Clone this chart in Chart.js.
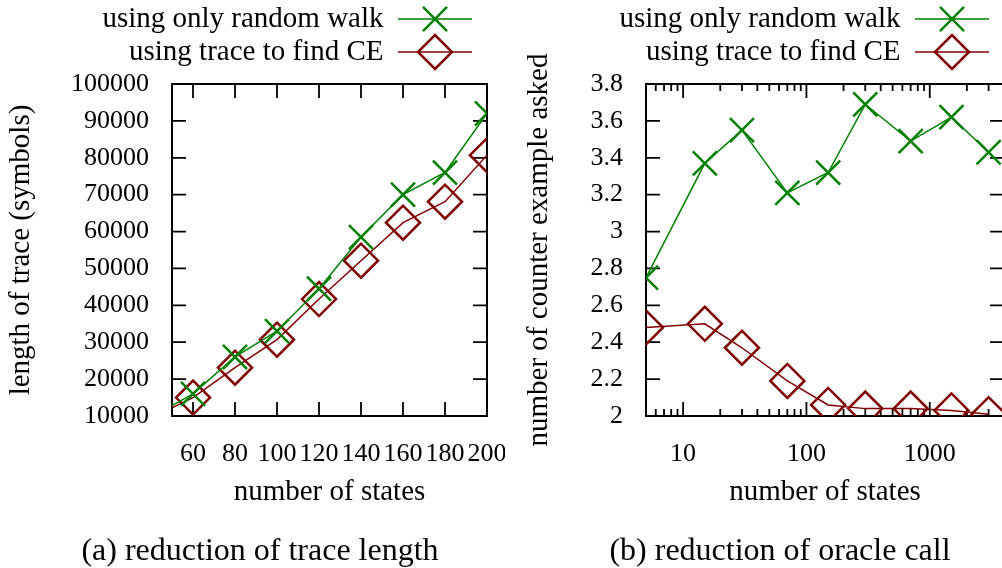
<!DOCTYPE html>
<html>
<head>
<meta charset="utf-8">
<script src="https://cdn.jsdelivr.net/npm/chart.js"></script>
<style>
  html, body { margin: 0; padding: 0; background: #fff; overflow: hidden; }
  #page { position: relative; width: 1002px; height: 568px; overflow: hidden; }
  canvas { position: absolute; top: 0; }
  #trace { left: 0; }
  #oracle { left: 510px; }
  .caption { position: absolute; top: 531px; width: 440px; height: 36px; line-height: 36px;
             text-align: center; font: 32px 'Liberation Serif', 'Times New Roman', serif;
             color: #000; white-space: nowrap; }
</style>
</head>
<body>
<div id="page">
  <canvas id="trace" width="505" height="568"></canvas>
  <canvas id="oracle" width="494" height="568"></canvas>
  <div class="caption" style="left:40px">(a) reduction of trace length</div>
  <div class="caption" style="left:560px">(b) reduction of oracle call</div>
</div>
<script>
// (a) length of trace, linear x
// first row (50) is only where the clipped lines enter the frame, no marker there
const statesA = [50, 60, 80, 100, 120, 140, 160, 180, 200];
const walkA = [12800, 16000, 26000, 33000, 44500, 58500, 70000, 76000, 92000];
const traceA = [12200, 15000, 23100, 30700, 41700, 52100, 62400, 68100, 80700];
const xTicksA = [60, 80, 100, 120, 140, 160, 180, 200];
const yTicksA = [10000, 20000, 30000, 40000, 50000, 60000, 70000, 80000, 90000, 100000];

// (b) counter examples asked, log x
const statesB = [5, 15, 30, 70, 150, 300, 700, 1500, 3000];
const walkB = [2.75, 3.37, 3.55, 3.21, 3.32, 3.69, 3.49, 3.62, 3.43];
const traceB = [2.48, 2.50, 2.37, 2.19, 2.06, 2.04, 2.04, 2.03, 2.01];
const xMajorB = [10, 100, 1000];
const yTicksB = [2, 2.2, 2.4, 2.6, 2.8, 3, 3.2, 3.4, 3.6, 3.8];

const seriesNames = ['using only random walk', 'using trace to find CE'];

const GREEN = 'rgb(0,128,0)';
const RED = 'rgb(128,0,0)';
const SERIF = "'Liberation Serif', 'Times New Roman', serif";
const tickFont = { family: SERIF, size: 26 };
const textFont = { family: SERIF, size: 29 };

// gnuplot style key sample: short line with the marker in its middle
function keySample(color, style) {
  const c = document.createElement('canvas');
  c.width = 85;
  c.height = 40;
  const g = c.getContext('2d');
  g.strokeStyle = color;
  g.lineWidth = 1.5;
  g.beginPath();
  g.moveTo(0, 20);
  g.lineTo(74, 20);
  g.stroke();
  g.lineWidth = 2.5;
  g.fillStyle = 'rgba(0,0,0,0)';
  Chart.helpers.drawPoint(g, { pointStyle: style, radius: 17, borderWidth: 2.5, rotation: 0 }, 37, 20);
  return c;
}
const samples = [keySample(GREEN, 'crossRot'), keySample(RED, 'rectRot')];

// border plus inward ticks on all four sides
const frame = {
  id: 'frame',
  beforeDatasetsDraw(chart) {
    const { ctx, chartArea: a, scales } = chart;
    ctx.save();
    ctx.strokeStyle = '#000';
    ctx.lineWidth = 1.8;
    ctx.beginPath();
    scales.x.ticks.forEach(t => {
      const p = scales.x.getPixelForValue(t.value);
      const len = t.major === false ? 7 : 14;
      ctx.moveTo(p, a.bottom); ctx.lineTo(p, a.bottom - len);
      ctx.moveTo(p, a.top); ctx.lineTo(p, a.top + len);
    });
    scales.y.ticks.forEach(t => {
      const p = scales.y.getPixelForValue(t.value);
      ctx.moveTo(a.left, p); ctx.lineTo(a.left + 14, p);
      ctx.moveTo(a.right, p); ctx.lineTo(a.right - 14, p);
    });
    ctx.stroke();
    ctx.lineWidth = 2;
    ctx.strokeRect(a.left, a.top, a.right - a.left, a.bottom - a.top);
    ctx.restore();
  }
};

// a bit of room between the key and the plot
const legendGap = {
  id: 'legendGap',
  afterInit(chart, args, opts) {
    const fit = chart.legend.fit;
    chart.legend.fit = function () {
      fit.call(this);
      this.height += opts.extra;
    };
  }
};

function series(label, xs, ys, color, style, radius) {
  return {
    label,
    data: xs.map((x, i) => ({ x, y: ys[i] })),
    borderColor: color,
    borderWidth: 1.5,
    pointStyle: style,
    pointRadius: radius,
    pointBorderColor: color,
    pointBorderWidth: 2.5,
    pointBackgroundColor: 'rgba(0,0,0,0)',
    tension: 0
  };
}

function noPad(s) {
  s.paddingLeft = s.paddingRight = s.paddingTop = s.paddingBottom = 0;
}

function makeChart(id, o) {
  return new Chart(document.getElementById(id), {
    type: 'line',
    data: {
      datasets: [
        series(seriesNames[0], o.xs, o.walk, GREEN, 'crossRot', o.radius),
        series(seriesNames[1], o.xs, o.trace, RED, 'rectRot', o.radius)
      ]
    },
    options: {
      responsive: false,
      animation: false,
      devicePixelRatio: 1,
      events: [],
      layout: { autoPadding: false, padding: { top: 0.5, left: 0, right: o.padRight, bottom: 52 } },
      plugins: {
        legend: {
          position: 'top',
          align: 'start',
          rtl: true,
          labels: {
            usePointStyle: true,
            pointStyleWidth: 85,
            padding: 4,
            color: '#000',
            font: textFont,
            generateLabels: chart => Chart.defaults.plugins.legend.labels.generateLabels(chart)
              .map((l, i) => Object.assign(l, { pointStyle: samples[i] }))
          }
        },
        legendGap: { extra: 7.5 },
        tooltip: { enabled: false }
      },
      scales: {
        x: {
          type: o.xType,
          min: o.xMin,
          max: o.xMax,
          grid: { display: false },
          border: { display: false },
          afterBuildTicks: s => { s.ticks = o.xTicks(); },
          afterFit: s => { s.height = 100; noPad(s); },
          ticks: { autoSkip: false, maxRotation: 0, minRotation: 0, padding: 14.4,
                   color: '#000', font: tickFont, callback: o.xLabel },
          title: { display: true, text: 'number of states', color: '#000', font: textFont,
                   padding: { top: 0, bottom: 6.6 } }
        },
        y: {
          type: 'linear',
          min: o.yTicks[0],
          max: o.yTicks[o.yTicks.length - 1],
          grid: { display: false },
          border: { display: false },
          afterBuildTicks: s => { s.ticks = o.yTicks.map(v => ({ value: v })); },
          afterFit: s => { s.width = o.yWidth; noPad(s); },
          ticks: { autoSkip: false, padding: 15, color: '#000', font: tickFont, callback: o.yLabel },
          title: { display: true, text: o.yTitle, color: '#000', font: textFont,
                   padding: { top: o.yTitlePad, bottom: 0 } }
        }
      }
    },
    plugins: [frame, legendGap]
  });
}

makeChart('trace', {
  xs: statesA, walk: walkA, trace: traceA,
  radius: statesA.map(s => s < xTicksA[0] ? 0 : 17),
  xType: 'linear', xMin: 50, xMax: 200,
  xTicks: () => xTicksA.map(v => ({ value: v })),
  xLabel: v => String(v),
  yTicks: yTicksA,
  yLabel: v => String(v),
  yTitle: 'length of trace (symbols)',
  yWidth: 172, yTitlePad: 3.6, padRight: 18
});

makeChart('oracle', {
  xs: statesB, walk: walkB, trace: traceB,
  radius: 17,
  xType: 'logarithmic', xMin: 5, xMax: 4000,
  xTicks: () => {
    const out = [];
    for (let d = 1; d <= 1000; d *= 10) {
      for (let m = 1; m < 10; m++) {
        const v = m * d;
        if (v >= 5 && v <= 4000) out.push({ value: v, major: xMajorB.includes(v) });
      }
    }
    return out;
  },
  xLabel: v => xMajorB.includes(v) ? String(v) : '',
  yTicks: yTicksB,
  yLabel: v => String(Math.round(v * 10) / 10),
  yTitle: 'number of counter example asked',
  yWidth: 136, yTitlePad: 11.6, padRight: 0
});
</script>
</body>
</html>
